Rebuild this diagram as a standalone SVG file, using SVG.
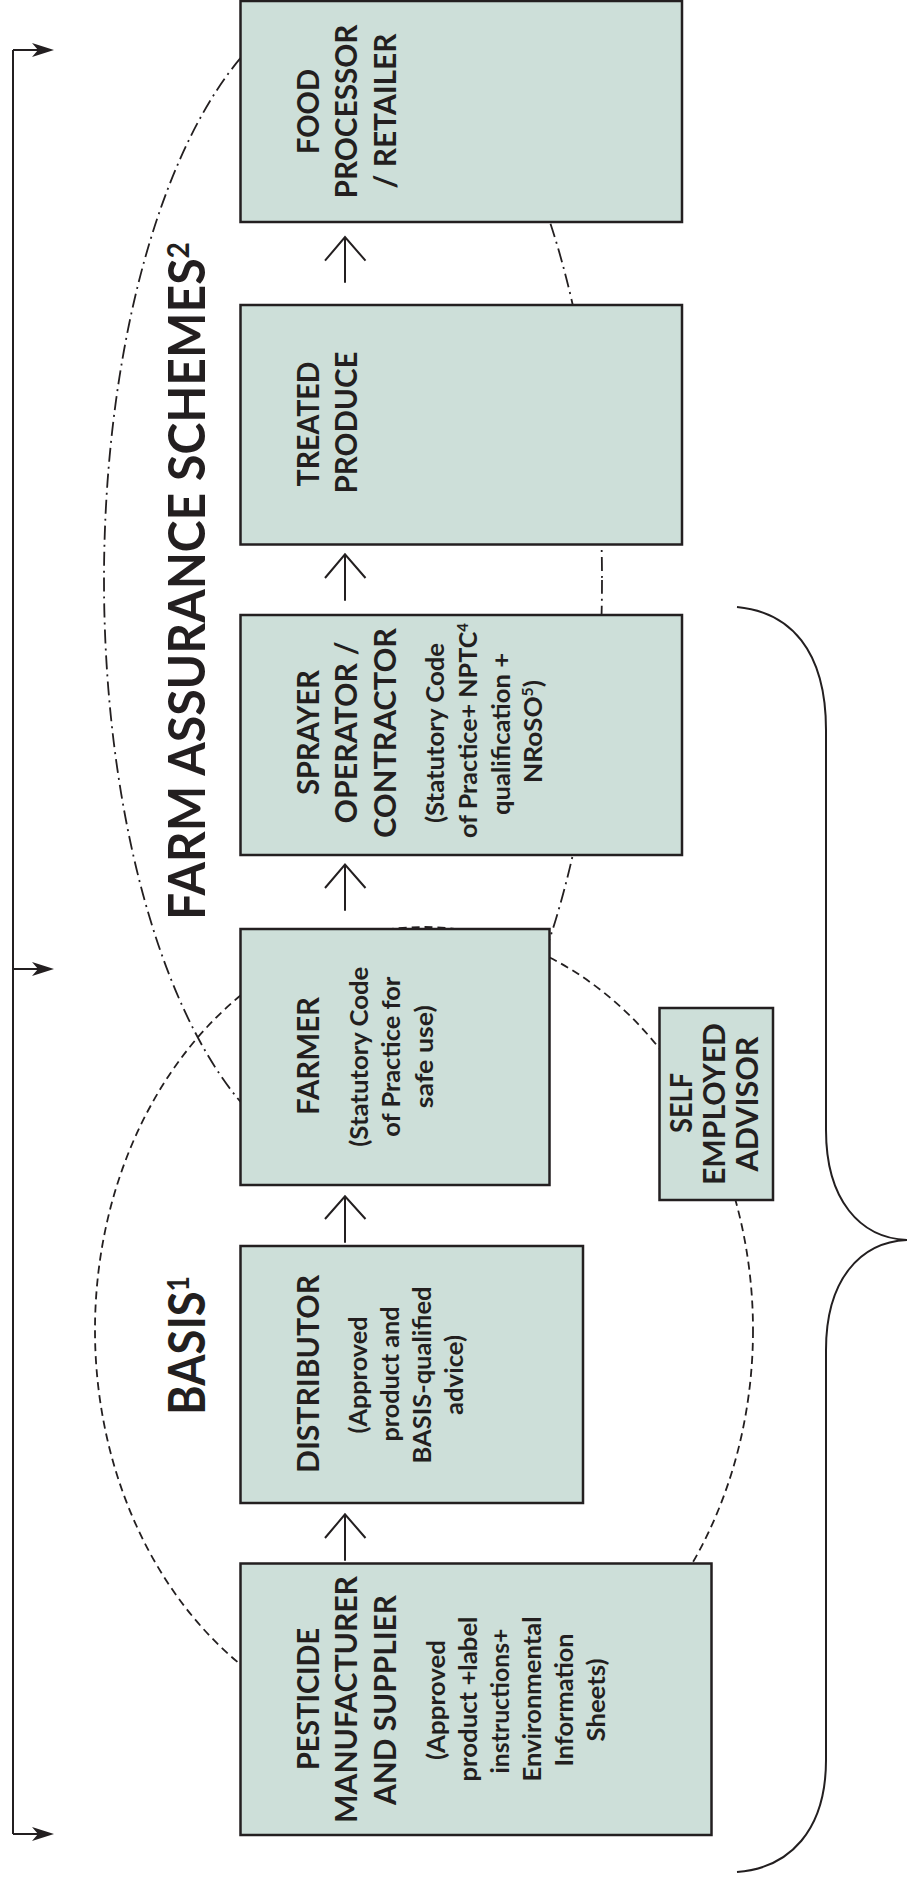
<svg xmlns="http://www.w3.org/2000/svg" width="907" height="1877" viewBox="0 0 907 1877">
<style>
.box{fill:#cddfd9;stroke:#231f20;stroke-width:2.5}
.t{font-family:Lato,"Liberation Sans",sans-serif;font-weight:700;fill:#231f20}
.h{font-size:31px;text-anchor:middle}
.s{font-size:25px;text-anchor:middle}
.ti{font-size:51px}
.ln{fill:none;stroke:#231f20;stroke-width:2}
.dash{fill:none;stroke:#231f20;stroke-width:1.8;stroke-dasharray:8 5}
.dd{fill:none;stroke:#231f20;stroke-width:1.8;stroke-dasharray:14 5 2 5}
</style>
<defs>
<path id="ah" d="M0,0 L-22,-7 L-16,0 L-22,7 Z" fill="#231f20"/>
</defs>
<g id="scopes">
<ellipse class="dd" cx="353" cy="580" rx="249" ry="585"/>
<ellipse class="dash" cx="424" cy="1330" rx="329" ry="403"/>
</g>
<g id="connectors">
<path class="ln" d="M345,282.7 V237 M325,260.7 L345,237 L365.5,260.7"/>
<path class="ln" d="M345,600.7 V554.3 M325,578 L345,554.3 L365.5,578"/>
<path class="ln" d="M345,910.7 V864.5 M325,888 L345,864.5 L365.5,888"/>
<path class="ln" d="M345,1242.7 V1196.3 M325,1219 L345,1196.3 L365.5,1219"/>
<path class="ln" d="M345,1560.7 V1514.3 M325,1538 L345,1514.3 L365.5,1538"/>
<path class="ln" d="M13,50 V1834 M13,50 H40 M13,969 H40 M13,1834 H40"/>
<use href="#ah" x="54" y="50"/>
<use href="#ah" x="54" y="969"/>
<use href="#ah" x="54" y="1834"/>
<path class="ln" d="M737,607 C790,612 826,650 826,730 L826,1130 C826,1200 860,1238 907,1240 C860,1242 826,1280 826,1350 L826,1760 C826,1830 790,1868 737,1872"/>
</g>
<g id="title-farm">
<text class="t ti" transform="translate(205,920) rotate(-90)" textLength="678" lengthAdjust="spacingAndGlyphs">FARM ASSURANCE SCHEMES<tspan font-size="30" dy="-16">2</tspan></text>
</g>
<g id="title-basis">
<text class="t ti" transform="translate(205,1415) rotate(-90)" textLength="139" lengthAdjust="spacingAndGlyphs">BASIS<tspan font-size="30" dy="-16">1</tspan></text>
</g>
<g id="food">
<rect class="box" x="240.5" y="1" width="441.5" height="221"/>
<text class="t h" transform="translate(318.5,111.5) rotate(-90)" textLength="85" lengthAdjust="spacingAndGlyphs">FOOD</text>
<text class="t h" transform="translate(357,111.5) rotate(-90)" textLength="174" lengthAdjust="spacingAndGlyphs">PROCESSOR</text>
<text class="t h" transform="translate(395.5,111) rotate(-90)" textLength="155" lengthAdjust="spacingAndGlyphs">/ RETAILER</text>
</g>
<g id="treated">
<rect class="box" x="240.5" y="305" width="441.5" height="239.5"/>
<text class="t h" transform="translate(318.5,424) rotate(-90)" textLength="125" lengthAdjust="spacingAndGlyphs">TREATED</text>
<text class="t h" transform="translate(357,422.5) rotate(-90)" textLength="142" lengthAdjust="spacingAndGlyphs">PRODUCE</text>
</g>
<g id="sprayer">
<rect class="box" x="240.5" y="615" width="441.5" height="240"/>
<text class="t h" transform="translate(318.5,732.5) rotate(-90)" textLength="125" lengthAdjust="spacingAndGlyphs">SPRAYER</text>
<text class="t h" transform="translate(357,732.5) rotate(-90)" textLength="182" lengthAdjust="spacingAndGlyphs">OPERATOR /</text>
<text class="t h" transform="translate(395.5,733) rotate(-90)" textLength="210" lengthAdjust="spacingAndGlyphs">CONTRACTOR</text>
<text class="t s" transform="translate(444,733) rotate(-90)" textLength="180" lengthAdjust="spacingAndGlyphs">(Statutory Code</text>
<text class="t s" transform="translate(477,730.5) rotate(-90)" textLength="215" lengthAdjust="spacingAndGlyphs">of Practice+ NPTC<tspan font-size="15" dy="-9">4</tspan></text>
<text class="t s" transform="translate(510,734) rotate(-90)" textLength="162" lengthAdjust="spacingAndGlyphs">qualification +</text>
<text class="t s" transform="translate(542,731.5) rotate(-90)" textLength="103" lengthAdjust="spacingAndGlyphs">NRoSO<tspan font-size="15" dy="-9">5</tspan><tspan dy="9">)</tspan></text>
</g>
<g id="farmer">
<rect class="box" x="240.5" y="929" width="309" height="256"/>
<text class="t h" transform="translate(318.5,1056) rotate(-90)" textLength="118" lengthAdjust="spacingAndGlyphs">FARMER</text>
<text class="t s" transform="translate(367.5,1056.7) rotate(-90)" textLength="180" lengthAdjust="spacingAndGlyphs">(Statutory Code</text>
<text class="t s" transform="translate(400,1056.7) rotate(-90)" textLength="160" lengthAdjust="spacingAndGlyphs">of Practice for</text>
<text class="t s" transform="translate(432.5,1056.7) rotate(-90)" textLength="103" lengthAdjust="spacingAndGlyphs">safe use)</text>
</g>
<g id="advisor">
<rect class="box" x="659.5" y="1008" width="113.5" height="192"/>
<text class="t h" transform="translate(692,1103) rotate(-90)" textLength="60" lengthAdjust="spacingAndGlyphs">SELF</text>
<text class="t h" transform="translate(725,1104) rotate(-90)" textLength="162" lengthAdjust="spacingAndGlyphs">EMPLOYED</text>
<text class="t h" transform="translate(758,1104) rotate(-90)" textLength="135" lengthAdjust="spacingAndGlyphs">ADVISOR</text>
</g>
<g id="distributor">
<rect class="box" x="240.5" y="1246" width="342.5" height="257"/>
<text class="t h" transform="translate(318.5,1374) rotate(-90)" textLength="198" lengthAdjust="spacingAndGlyphs">DISTRIBUTOR</text>
<text class="t s" transform="translate(367,1375) rotate(-90)" textLength="117" lengthAdjust="spacingAndGlyphs">(Approved</text>
<text class="t s" transform="translate(399,1374) rotate(-90)" textLength="135" lengthAdjust="spacingAndGlyphs">product and</text>
<text class="t s" transform="translate(431,1375) rotate(-90)" textLength="177" lengthAdjust="spacingAndGlyphs">BASIS-qualified</text>
<text class="t s" transform="translate(463,1375) rotate(-90)" textLength="80" lengthAdjust="spacingAndGlyphs">advice)</text>
</g>
<g id="pesticide">
<rect class="box" x="240.5" y="1563.5" width="471" height="271.5"/>
<text class="t h" transform="translate(318.5,1699) rotate(-90)" textLength="142" lengthAdjust="spacingAndGlyphs">PESTICIDE</text>
<text class="t h" transform="translate(357,1699.5) rotate(-90)" textLength="247" lengthAdjust="spacingAndGlyphs">MANUFACTURER</text>
<text class="t h" transform="translate(395.5,1700) rotate(-90)" textLength="210" lengthAdjust="spacingAndGlyphs">AND SUPPLIER</text>
<text class="t s" transform="translate(444.5,1700) rotate(-90)" textLength="120" lengthAdjust="spacingAndGlyphs">(Approved</text>
<text class="t s" transform="translate(476.5,1699) rotate(-90)" textLength="165" lengthAdjust="spacingAndGlyphs">product +label</text>
<text class="t s" transform="translate(508.5,1701) rotate(-90)" textLength="145" lengthAdjust="spacingAndGlyphs">instructions+</text>
<text class="t s" transform="translate(540.5,1699) rotate(-90)" textLength="165" lengthAdjust="spacingAndGlyphs">Environmental</text>
<text class="t s" transform="translate(572.5,1700) rotate(-90)" textLength="133" lengthAdjust="spacingAndGlyphs">Information</text>
<text class="t s" transform="translate(604.5,1700) rotate(-90)" textLength="83" lengthAdjust="spacingAndGlyphs">Sheets)</text>
</g>
</svg>
